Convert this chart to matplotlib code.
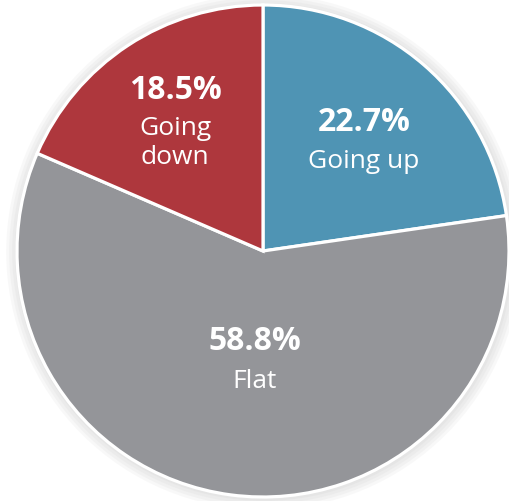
import matplotlib
matplotlib.use("Agg")
import matplotlib.pyplot as plt
from matplotlib.patches import Circle

# share of answers
labels = ["Going up", "Flat", "Going\ndown"]
shares = [22.7, 58.8, 18.5]
colors = ["#4f94b4", "#949599", "#ae373d"]

plt.rcParams["font.family"] = ["Open Sans", "DejaVu Sans"]

fig = plt.figure(figsize=(5.10, 5.02), dpi=100)
ax = fig.add_axes([0, 0, 1, 1])
R = 246.0
cx, cy = 263.0, 252.0

# soft shadow round the pie
for i, a in enumerate([0.05, 0.05, 0.05, 0.05]):
    ax.add_patch(Circle((0.004, -0.004), 1.0 + 0.012 * (i + 1), color="#808080",
                        alpha=a, lw=0, zorder=0))

wedges, _ = ax.pie(shares, colors=colors, startangle=90, counterclock=False,
                   radius=1.0, frame=True,
                   wedgeprops=dict(edgecolor="white", linewidth=2.3))
ax.set_xlim(-cx / R, (510 - cx) / R)
ax.set_ylim(-(502 - cy) / R, cy / R)
ax.set_aspect("auto")
ax.axis("off")

# label positions in pixels (centre of the percentage and the name)
pct_pos = [(364, 122), (255, 341), (175, 90)]
name_pos = [(364, 161), (255, 381), (175, 143)]


def to_data(p):
    return ((p[0] - cx) / R, (cy - p[1]) / R)


for s, lab, pp, npos in zip(shares, labels, pct_pos, name_pos):
    x, y = to_data(pp)
    ax.text(x, y, f"{s:.1f}%", ha="center", va="center", color="white",
            fontsize=23, fontweight="bold")
    x, y = to_data(npos)
    ax.text(x, y, lab, ha="center", va="center", color="white",
            fontsize=19, linespacing=1.2)

fig.savefig("out.png", dpi=100)
